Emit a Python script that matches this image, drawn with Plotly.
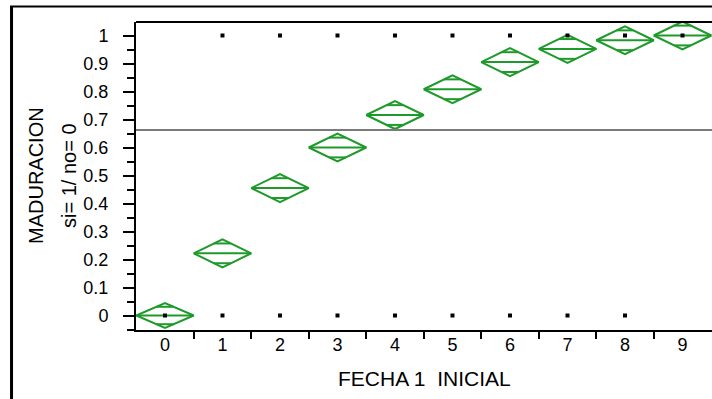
import plotly.graph_objects as go

# ---- data ----
categories = [0, 1, 2, 3, 4, 5, 6, 7, 8, 9]
tick_labels = ["0", "1", "2", "3", "4", "5", "6", "7", "8", "9"]
means = [0.0, 0.222, 0.455, 0.600, 0.716, 0.808, 0.905, 0.952, 0.983, 1.0]
ci_half = [0.044, 0.050, 0.050, 0.050, 0.050, 0.050, 0.050, 0.050, 0.050, 0.050]
grand_mean = 0.6625
obs_x = [1, 2, 3, 4, 5, 6, 7, 8, 9, 0, 1, 2, 3, 4, 5, 6, 7, 8]
obs_y = [1, 1, 1, 1, 1, 1, 1, 1, 1, 0, 0, 0, 0, 0, 0, 0, 0, 0]

GREEN = "#1e9a2a"
HALF_W = 0.5
FONT = "Liberation Sans, Arial, sans-serif"

# ---- build diamond geometry from the data ----
dx, dy, mx, my, ox, oy = [], [], [], [], [], []
for c, m, h in zip(categories, means, ci_half):
    dx += [c - HALF_W, c, c + HALF_W, c, c - HALF_W, None]
    dy += [m, m + h, m, m - h, m, None]
    mx += [c - HALF_W, c + HALF_W, None]
    my += [m, m, None]
    off = h / 2 ** 0.5
    w = HALF_W * (1 - 1 / 2 ** 0.5)
    for s in (1, -1):
        ox += [c - w, c + w, None]
        oy += [m + s * off, m + s * off, None]

fig = go.Figure()
fig.add_trace(go.Scatter(x=dx, y=dy, mode="lines", line=dict(color=GREEN, width=2),
                         hoverinfo="skip", showlegend=False))
fig.add_trace(go.Scatter(x=mx, y=my, mode="lines", line=dict(color=GREEN, width=2),
                         hoverinfo="skip", showlegend=False))
fig.add_trace(go.Scatter(x=ox, y=oy, mode="lines", line=dict(color=GREEN, width=2),
                         hoverinfo="skip", showlegend=False))
fig.add_trace(go.Scatter(x=obs_x, y=obs_y, mode="markers",
                         marker=dict(symbol="square", size=4, color="black", line=dict(width=0)),
                         showlegend=False))

# grand mean line
fig.add_shape(type="line", xref="paper", x0=0, x1=1, yref="y", y0=grand_mean, y1=grand_mean,
              line=dict(color="#7a7a7a", width=2), layer="above")
# top border of plot area
fig.add_shape(type="line", xref="paper", x0=0, x1=1, yref="paper", y0=1, y1=1,
              line=dict(color="black", width=2))
# outer frame (left and top)
fig.add_shape(type="line", xref="paper", x0=-0.2161, x1=-0.2161, yref="paper", y0=1.0520, y1=-0.35,
              line=dict(color="black", width=3))
fig.add_shape(type="line", xref="paper", x0=-0.2187, x1=1.1, yref="paper", y0=1.0503, y1=1.0503,
              line=dict(color="black", width=2))

fig.update_layout(
    width=712, height=399,
    margin=dict(l=136, r=0, t=22, b=69),
    paper_bgcolor="white", plot_bgcolor="white",
    font=dict(family=FONT, size=18, color="black"),
    xaxis=dict(range=[-0.504, 9.513], showline=True, linewidth=2, linecolor="black",
               tickmode="array", tickvals=categories, ticktext=tick_labels, ticks="",
               showgrid=False, zeroline=False, ticklabelstandoff=-3,
               minor=dict(tickvals=[c + 0.5 for c in categories[:-1]], ticks="outside",
                          ticklen=7, tickwidth=2, tickcolor="black", showgrid=False)),
    yaxis=dict(range=[-0.0518, 1.0482], showline=True, linewidth=2, linecolor="black",
               tickmode="linear", tick0=0, dtick=0.1, ticks="outside", ticklen=11,
               tickwidth=2, tickcolor="black", showgrid=False, zeroline=False,
               ticklabelstandoff=11,
               minor=dict(tick0=0, dtick=0.05, ticks="outside", ticklen=7, tickwidth=2,
                          tickcolor="black", showgrid=False)),
    annotations=[
        dict(text="MADURACION", xref="paper", yref="paper", x=-0.1736, y=0.5,
             xanchor="center", yanchor="middle", textangle=-90, showarrow=False,
             font=dict(size=20)),
        dict(text="si= 1/ no= 0", xref="paper", yref="paper", x=-0.1163, y=0.5,
             xanchor="center", yanchor="middle", textangle=-90, showarrow=False,
             font=dict(size=20)),
        dict(text="FECHA 1  INICIAL", xref="paper", yref="paper", x=0.5, y=-0.156,
             xanchor="center", yanchor="middle", showarrow=False,
             font=dict(size=21)),
    ],
)

fig.write_html("out.html")
